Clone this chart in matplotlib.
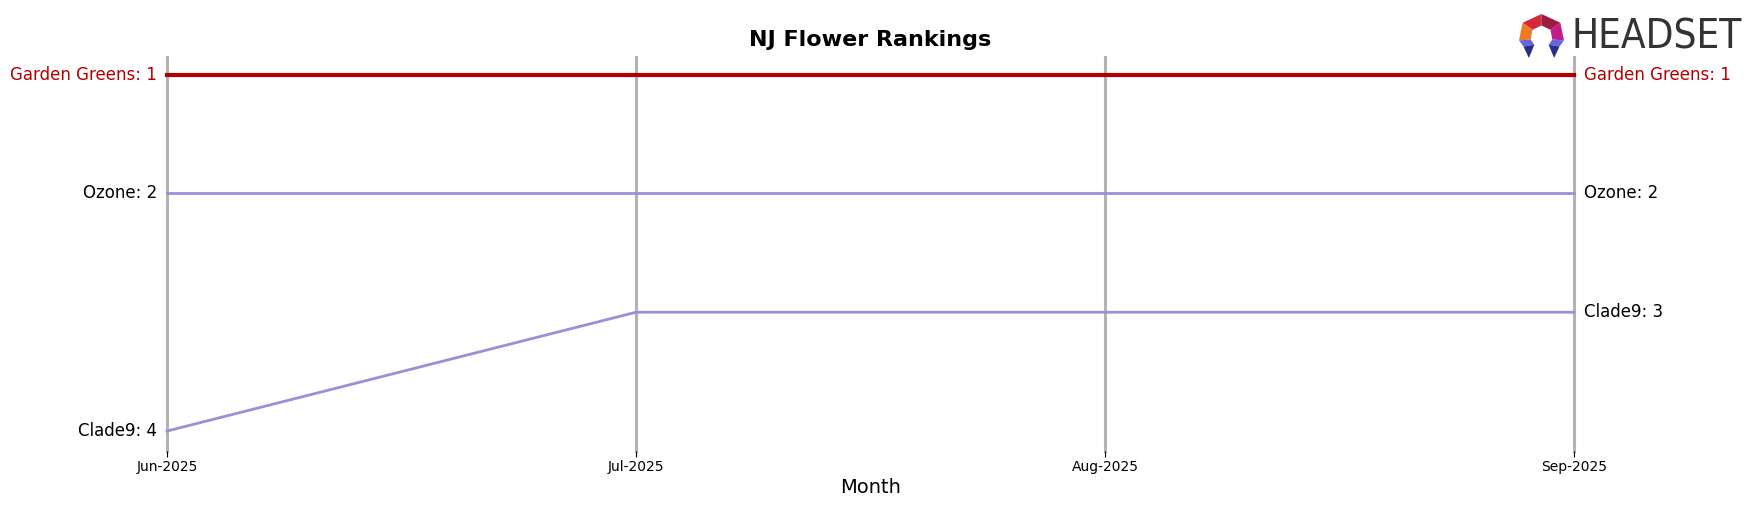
import matplotlib
matplotlib.use("Agg")
import matplotlib.pyplot as plt
from matplotlib.patches import Polygon

months = ["Jun-2025", "Jul-2025", "Aug-2025", "Sep-2025"]
brands = ["Garden Greens", "Ozone", "Clade9"]
garden_greens = [1, 1, 1, 1]
ozone = [2, 2, 2, 2]
clade9 = [4, 3, 3, 3]
series = [garden_greens, ozone, clade9]
colors = ["#B30000", "#9A8FD8", "#9A8FD8"]
widths = [3, 2, 2]
label_colors = ["#B30000", "black", "black"]

fig = plt.figure(figsize=(17.56, 5.07), dpi=100)
ax = fig.add_axes([0.0951, 0.110, 0.8013, 0.778])
x = list(range(len(months)))

for xi in x:
    ax.axvline(xi, color="#B3B3B3", lw=2.2, zorder=1, clip_on=False)

for name, vals, c, w, lc in zip(brands, series, colors, widths, label_colors):
    ax.plot(x, vals, color=c, lw=w, zorder=3, clip_on=False)
    ax.annotate(f"{name}: {vals[0]}", (x[0], vals[0]), xytext=(-7, 0),
                textcoords="offset points", ha="right", va="center",
                fontsize=12, color=lc)
    ax.annotate(f"{name}: {vals[-1]}", (x[-1], vals[-1]), xytext=(7, 0),
                textcoords="offset points", ha="left", va="center",
                fontsize=12, color=lc)

ax.set_xlim(0, 3)
ax.set_ylim(4.17, 0.85)
ax.set_xticks(x)
ax.set_xticklabels(months, fontsize=10)
ax.set_yticks([])
ax.tick_params(axis="x", length=4, pad=2)
for s in ax.spines.values():
    s.set_visible(False)
ax.set_xlabel("Month", fontsize=14, labelpad=3)
ax.set_title("NJ Flower Rankings", fontsize=16, fontweight="bold", pad=8)

# Logo
lax = fig.add_axes([1519 / 1756, 1 - 58 / 507, 45 / 1756, 44 / 507])
lax.set_xlim(0, 1)
lax.set_ylim(0, 1)
lax.axis("off")
pieces = [
    ([(0.5, 1.0), (0.08, 0.8), (0.3, 0.64), (0.5, 0.74)], "#D42A3C"),
    ([(0.5, 1.0), (0.92, 0.8), (0.7, 0.64), (0.5, 0.74)], "#9E1B3F"),
    ([(0.08, 0.8), (0.0, 0.4), (0.26, 0.42), (0.3, 0.64)], "#F07A24"),
    ([(0.92, 0.8), (1.0, 0.4), (0.74, 0.42), (0.7, 0.64)], "#C21C8C"),
    ([(0.0, 0.4), (0.26, 0.42), (0.34, 0.3), (0.1, 0.26)], "#6A63E0"),
    ([(0.1, 0.26), (0.34, 0.3), (0.22, 0.0)], "#262E86"),
    ([(1.0, 0.4), (0.74, 0.42), (0.66, 0.3), (0.9, 0.26)], "#6A63E0"),
    ([(0.9, 0.26), (0.66, 0.3), (0.78, 0.0)], "#262E86"),
]
for pts, c in pieces:
    lax.add_patch(Polygon(pts, closed=True, facecolor=c, edgecolor="none"))

fig.text(1572 / 1756, 1 - 38 / 507, "HEADSET", ha="left", va="center",
         fontsize=29, color="#333333", family=["Liberation Sans Narrow", "DejaVu Sans"],
         fontstretch="condensed")

fig.savefig("out.png", dpi=100)
